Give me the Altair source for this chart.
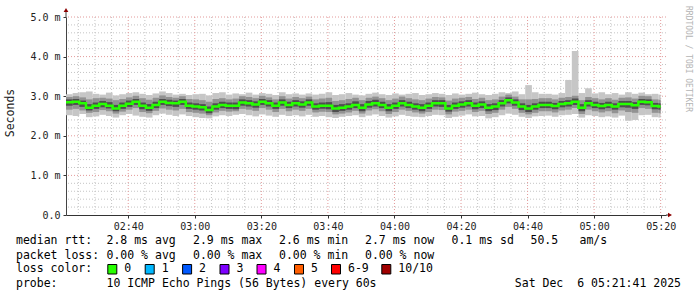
import altair as alt
import pandas as pd

# ---------------- data ----------------
START_MIN = 141.3     # left edge of plot, minutes after midnight (~02:21)
END_MIN = 321.6       # right edge of plot
DATA_END = 320.0      # last sample (05:20)
STEP_MIN = 2

median = [2.85, 2.86, 2.82, 2.71, 2.76, 2.80, 2.76, 2.69, 2.76, 2.81, 2.86, 2.76, 2.71, 2.78, 2.86, 2.83, 2.82, 2.86,
          2.76, 2.74, 2.72, 2.65, 2.74, 2.78, 2.76, 2.76, 2.84, 2.82, 2.79, 2.86, 2.82, 2.76, 2.84, 2.78, 2.82, 2.79,
          2.84, 2.74, 2.76, 2.76, 2.69, 2.71, 2.74, 2.78, 2.71, 2.79, 2.82, 2.78, 2.71, 2.76, 2.82, 2.78, 2.74, 2.71,
          2.76, 2.82, 2.82, 2.69, 2.76, 2.79, 2.82, 2.76, 2.79, 2.71, 2.74, 2.82, 2.90, 2.84, 2.74, 2.69, 2.74, 2.78,
          2.78, 2.75, 2.80, 2.82, 2.86, 2.71, 2.82, 2.78, 2.75, 2.78, 2.74, 2.80, 2.80, 2.77, 2.86, 2.85, 2.75, 2.74]

out_hi = [3.05, 3.08, 3.10, 3.12, 3.06, 3.04, 3.09, 3.02, 3.05, 3.08, 3.10, 3.06, 3.03, 3.07, 3.12, 3.08, 3.04, 3.06,
          3.03, 3.05, 3.06, 3.02, 3.08, 3.10, 3.04, 3.07, 3.05, 3.09, 3.04, 3.08, 3.06, 3.03, 3.10, 3.05, 3.07, 3.04,
          3.07, 3.04, 3.06, 3.10, 3.03, 3.05, 3.08, 3.04, 3.02, 3.06, 3.09, 3.05, 3.03, 3.07, 3.04, 3.06, 3.08, 3.03,
          3.05, 3.08, 3.06, 3.03, 3.07, 3.04, 3.06, 3.09, 3.05, 3.03, 3.06, 3.10, 3.08, 3.12, 3.05, 3.28, 3.10, 3.06,
          3.06, 3.04, 3.08, 3.41, 4.14, 3.08, 3.20, 3.07, 3.10, 3.05, 3.08, 3.04, 3.10, 3.06, 3.09, 3.05, 3.06, 3.04]

out_lo = [2.52, 2.50, 2.55, 2.47, 2.49, 2.53, 2.50, 2.46, 2.52, 2.55, 2.51, 2.48, 2.46, 2.52, 2.56, 2.53, 2.50, 2.54,
          2.50, 2.47, 2.45, 2.44, 2.49, 2.52, 2.50, 2.53, 2.55, 2.52, 2.49, 2.54, 2.51, 2.48, 2.53, 2.50, 2.52, 2.49,
          2.53, 2.48, 2.50, 2.47, 2.45, 2.48, 2.50, 2.52, 2.47, 2.51, 2.54, 2.50, 2.46, 2.49, 2.53, 2.50, 2.48, 2.47,
          2.50, 2.53, 2.52, 2.45, 2.48, 2.51, 2.54, 2.49, 2.50, 2.44, 2.47, 2.52, 2.56, 2.53, 2.48, 2.45, 2.49, 2.50,
          2.51, 2.48, 2.52, 2.53, 2.55, 2.46, 2.52, 2.50, 2.47, 2.49, 2.46, 2.51, 2.38, 2.40, 2.52, 2.53, 2.47, 2.46]

mid_hi = [2.98, 3.00, 2.97, 2.92, 2.95, 2.96, 2.94, 2.90, 2.93, 2.97, 3.01, 2.95, 2.91, 2.96, 3.02, 2.98, 2.96, 3.00,
          2.93, 2.92, 2.90, 2.86, 2.93, 2.95, 2.92, 2.94, 3.00, 2.98, 2.95, 3.01, 2.97, 2.92, 3.00, 2.94, 2.98, 2.95,
          2.99, 2.92, 2.94, 2.96, 2.88, 2.90, 2.93, 2.96, 2.90, 2.96, 2.99, 2.95, 2.90, 2.94, 2.99, 2.95, 2.92, 2.90,
          2.94, 2.98, 2.97, 2.89, 2.94, 2.96, 2.98, 2.93, 2.96, 2.90, 2.92, 2.99, 3.04, 2.99, 2.92, 2.92, 2.93, 2.95,
          2.95, 2.92, 2.96, 2.98, 3.01, 2.90, 2.98, 2.95, 2.92, 2.95, 2.91, 2.96, 2.97, 2.94, 3.01, 3.00, 2.92, 2.91]

mid_lo = [2.66, 2.68, 2.64, 2.58, 2.60, 2.65, 2.62, 2.56, 2.61, 2.66, 2.70, 2.60, 2.57, 2.63, 2.69, 2.66, 2.64, 2.68,
          2.60, 2.58, 2.56, 2.52, 2.59, 2.63, 2.61, 2.62, 2.68, 2.66, 2.63, 2.70, 2.66, 2.60, 2.68, 2.62, 2.66, 2.63,
          2.68, 2.59, 2.61, 2.60, 2.54, 2.56, 2.59, 2.63, 2.56, 2.64, 2.67, 2.62, 2.55, 2.60, 2.66, 2.63, 2.59, 2.56,
          2.60, 2.66, 2.65, 2.54, 2.61, 2.63, 2.66, 2.60, 2.63, 2.55, 2.58, 2.66, 2.73, 2.68, 2.58, 2.54, 2.58, 2.62,
          2.62, 2.59, 2.64, 2.66, 2.70, 2.55, 2.66, 2.62, 2.59, 2.62, 2.57, 2.64, 2.60, 2.58, 2.70, 2.68, 2.58, 2.57]

in_hi = [2.92, 2.93, 2.89, 2.80, 2.84, 2.88, 2.85, 2.78, 2.84, 2.89, 2.93, 2.84, 2.80, 2.86, 2.93, 2.91, 2.89, 2.93,
         2.84, 2.82, 2.80, 2.74, 2.82, 2.86, 2.84, 2.84, 2.92, 2.90, 2.87, 2.93, 2.90, 2.84, 2.92, 2.86, 2.90, 2.87,
         2.92, 2.82, 2.84, 2.85, 2.78, 2.80, 2.82, 2.87, 2.80, 2.88, 2.91, 2.86, 2.80, 2.84, 2.90, 2.86, 2.82, 2.80,
         2.84, 2.90, 2.90, 2.78, 2.84, 2.87, 2.90, 2.84, 2.87, 2.80, 2.82, 2.90, 2.97, 2.92, 2.82, 2.78, 2.82, 2.86,
         2.86, 2.83, 2.88, 2.90, 2.94, 2.80, 2.90, 2.86, 2.83, 2.86, 2.82, 2.88, 2.88, 2.85, 2.93, 2.92, 2.83, 2.82]

in_lo = [2.76, 2.78, 2.73, 2.64, 2.68, 2.72, 2.69, 2.62, 2.68, 2.73, 2.78, 2.67, 2.63, 2.70, 2.78, 2.75, 2.73, 2.78,
         2.68, 2.66, 2.64, 2.57, 2.66, 2.70, 2.68, 2.67, 2.76, 2.74, 2.71, 2.78, 2.74, 2.68, 2.76, 2.70, 2.74, 2.71,
         2.76, 2.66, 2.68, 2.67, 2.60, 2.63, 2.66, 2.70, 2.62, 2.71, 2.74, 2.70, 2.62, 2.68, 2.74, 2.70, 2.66, 2.62,
         2.68, 2.74, 2.73, 2.61, 2.68, 2.71, 2.74, 2.67, 2.70, 2.62, 2.65, 2.74, 2.82, 2.76, 2.65, 2.60, 2.66, 2.70,
         2.70, 2.67, 2.72, 2.74, 2.78, 2.62, 2.74, 2.70, 2.67, 2.70, 2.66, 2.72, 2.71, 2.68, 2.78, 2.77, 2.67, 2.66]

x_major = [160, 180, 200, 220, 240, 260, 280, 300, 320]
y_major = [0, 1, 2, 3, 4, 5]

NB = "\u00a0"
row_texts = ["median rtt:", "2.8 ms avg", "2.9 ms max", "2.6 ms min", "2.7 ms now", "0.1 ms sd", "50.5", "am/s",
             "packet loss:", "0.00 % avg", "0.00 % max", "0.00 % min", "0.00 % now",
             "loss color:",
             "probe:", "10 ICMP Echo Pings (56 Bytes) every 60s"]
row_x = [-50, 40.5, 127, 213, 299, 385.5, 464.5, 513.5,
         -50, 40.5, 127, 213, 299,
         -50,
         -50, 40.5]
row_y = [224, 224, 224, 224, 224, 224, 224, 224,
         239, 239, 239, 239, 239,
         252,
         267, 267]
date_label = "Sat Dec" + NB + NB + "6 05:21:41 2025"

loss_labels = ["0", "1", "2", "3", "4", "5", "6-9", "10/10"]
loss_colors = ["#26ff00", "#00b8ff", "#0059ff", "#7e00ff", "#ff00ff", "#ff5e00", "#ff0000", "#a00000"]
loss_box_x = [41.8, 79.2, 116.6, 154, 191, 228.5, 265.5, 315.8]

# ---------------- build tables ----------------
t0 = [START_MIN + STEP_MIN * i for i in range(len(median))]
t1 = [min(t + STEP_MIN, DATA_END) for t in t0]
df = pd.DataFrame(dict(t0=t0, t1=t1, med=median, out_hi=out_hi, out_lo=out_lo,
                       mid_hi=mid_hi, mid_lo=mid_lo, in_hi=in_hi, in_lo=in_lo))
df_line = pd.DataFrame(dict(t=t0 + [DATA_END], med=median + [median[-1]]))

xs = alt.Scale(domain=[START_MIN, END_MIN], nice=False, zero=False)
ys = alt.Scale(domain=[0, 5], nice=False, zero=False)
MONO = "DejaVu Sans Mono"

x_label_expr = ("(floor(datum.value/60) < 10 ? '0' : '') + floor(datum.value/60) + ':' + "
                "(datum.value % 60 < 10 ? '0' : '') + (datum.value % 60)")
y_label_expr = "datum.value == 0 ? '0.0' : format(datum.value, '.1f') + ' m'"

X_AXIS = alt.Axis(values=x_major, labelExpr=x_label_expr, title=None, grid=False,
                  labelFont=MONO, labelFontSize=10, labelColor="#222",
                  tickSize=3, tickColor="#333", domainColor="#333",
                  labelPadding=3, labelFlush=False)
Y_AXIS = alt.Axis(values=y_major, labelExpr=y_label_expr, title=None, grid=False,
                  labelFont=MONO, labelFontSize=10, labelColor="#222",
                  tickSize=3, tickColor="#333", domainColor="#444",
                  labelPadding=3)


def X(field):
    return alt.X(field, scale=xs, axis=X_AXIS)


def Y(field):
    return alt.Y(field, scale=ys, axis=Y_AXIS)


x_minor = [m for m in range(145, 321, 5) if m % 20 != 0]
y_minor = [round(v * 0.2, 1) for v in range(1, 26) if v % 5 != 0]

grid_minor_x = alt.Chart(pd.DataFrame({"v": x_minor})).mark_rule(
    color="#c4c4c4", strokeDash=[1, 2], strokeWidth=1).encode(x=X("v:Q"))
grid_minor_y = alt.Chart(pd.DataFrame({"v": y_minor})).mark_rule(
    color="#c4c4c4", strokeDash=[1, 2], strokeWidth=1).encode(y=Y("v:Q"))
grid_major_x = alt.Chart(pd.DataFrame({"v": x_major})).mark_rule(
    color="#e39a9a", strokeDash=[1, 2], strokeWidth=1).encode(x=X("v:Q"))
grid_major_y = alt.Chart(pd.DataFrame({"v": y_major[1:]})).mark_rule(
    color="#e39a9a", strokeDash=[1, 2], strokeWidth=1).encode(y=Y("v:Q"))

base = alt.Chart(df)
outer = base.mark_rect(color="#c6c6c6").encode(x=X("t0:Q"), x2="t1:Q", y=Y("out_lo:Q"), y2="out_hi:Q")
mid = base.mark_rect(color="#929292").encode(x=X("t0:Q"), x2="t1:Q", y=Y("mid_lo:Q"), y2="mid_hi:Q")
inner = base.mark_rect(color="#4e4e4e").encode(x=X("t0:Q"), x2="t1:Q", y=Y("in_lo:Q"), y2="in_hi:Q")
med_line = alt.Chart(df_line).mark_line(interpolate="step-after", color="#26ff00", strokeWidth=2.5).encode(
    x=X("t:Q"), y=Y("med:Q"))

# axis extensions + arrows
one = pd.DataFrame({"a": [0]})
y_ext = alt.Chart(one).mark_rule(color="#444").encode(x=alt.value(0), y=alt.value(-7), y2=alt.value(0))
x_ext = alt.Chart(one).mark_rule(color="#333").encode(x=alt.value(600), x2=alt.value(603), y=alt.value(198))
arrow_up = alt.Chart(one).mark_point(shape="triangle-up", filled=True, color="#8b0000", size=22, opacity=1).encode(
    x=alt.value(0), y=alt.value(-7))
arrow_right = alt.Chart(one).mark_point(shape="triangle-right", filled=True, color="#8b0000", size=22,
                                        opacity=1).encode(x=alt.value(604), y=alt.value(198))

# texts
texts = alt.Chart(pd.DataFrame({"label": row_texts, "px": row_x, "py": row_y})).mark_text(
    align="left", baseline="middle", font=MONO, fontSize=11.5, color="#000").encode(
    x=alt.X("px:Q", scale=None), y=alt.Y("py:Q", scale=None), text="label:N")
date_text = alt.Chart(pd.DataFrame({"label": [date_label]})).mark_text(
    align="right", baseline="middle", font=MONO, fontSize=11.5, color="#000").encode(
    x=alt.value(615), y=alt.value(267), text="label:N")

legend_df = pd.DataFrame({"label": loss_labels, "color": loss_colors,
                          "bx": loss_box_x,
                          "bx2": [b + 9 for b in loss_box_x],
                          "lx": [b + 16.5 for b in loss_box_x]})
boxes = alt.Chart(legend_df).mark_rect(stroke="#000", strokeWidth=1).encode(
    x=alt.X("bx:Q", scale=None), x2="bx2:Q", y=alt.value(247.5), y2=alt.value(257),
    fill=alt.Fill("color:N", scale=None))
box_labels = alt.Chart(legend_df).mark_text(
    align="left", baseline="middle", font=MONO, fontSize=11.5, color="#000").encode(
    x=alt.X("lx:Q", scale=None), y=alt.value(252), text="label:N")

ytitle = alt.Chart(pd.DataFrame({"label": ["Seconds"]})).mark_text(
    angle=270, align="center", baseline="middle", font=MONO, fontSize=11.5, color="#222").encode(
    x=alt.value(-55), y=alt.value(96), text="label:N")
credit = alt.Chart(pd.DataFrame({"label": ["RRDTOOL / TOBI OETIKER"]})).mark_text(
    angle=90, align="center", baseline="middle", font=MONO, fontSize=8, color="#b4b4b4").encode(
    x=alt.value(621.5), y=alt.value(42), text="label:N")

chart = alt.layer(
    grid_minor_x, grid_minor_y, grid_major_x, grid_major_y, outer, mid, inner, med_line,
    y_ext, x_ext, arrow_up, arrow_right,
    texts, date_text, boxes, box_labels, ytitle, credit
).properties(
    width=600, height=198,
    autosize=alt.AutoSizeParams(type="none"),
    padding={"left": 66, "top": 17, "right": 31, "bottom": 82},
    background="#ffffff"
).configure_view(stroke=None)

chart.save("out.html", embed_options={"renderer": "svg", "actions": False})
